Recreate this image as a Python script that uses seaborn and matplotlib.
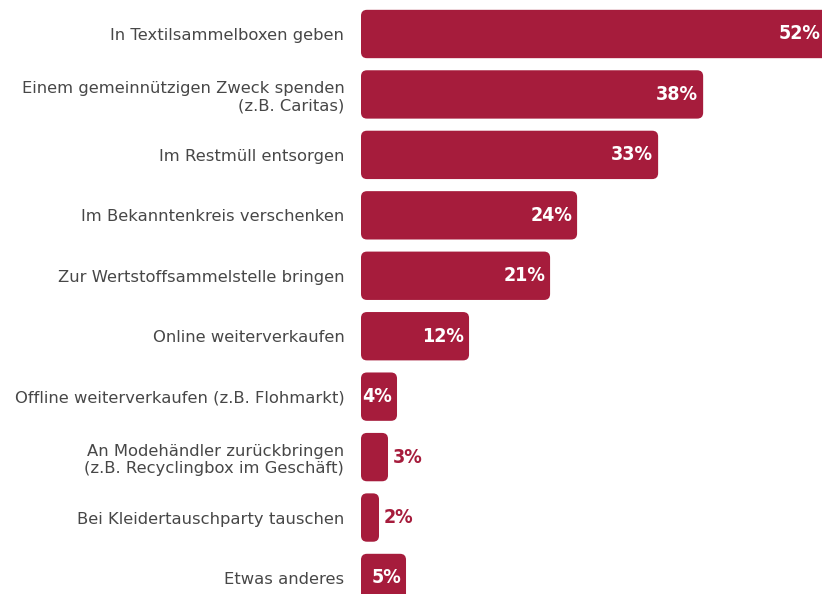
import matplotlib
matplotlib.use("Agg")
import matplotlib.pyplot as plt
import seaborn as sns
import pandas as pd
from matplotlib.patches import FancyBboxPatch

# Data
categories = [
    "In Textilsammelboxen geben",
    "Einem gemeinnützigen Zweck spenden\n(z.B. Caritas)",
    "Im Restmüll entsorgen",
    "Im Bekanntenkreis verschenken",
    "Zur Wertstoffsammelstelle bringen",
    "Online weiterverkaufen",
    "Offline weiterverkaufen (z.B. Flohmarkt)",
    "An Modehändler zurückbringen\n(z.B. Recyclingbox im Geschäft)",
    "Bei Kleidertauschparty tauschen",
    "Etwas anderes",
]
values = [52, 38, 33, 24, 21, 12, 4, 3, 2, 5]

df = pd.DataFrame({"Antwort": categories, "Anteil": values})

bar_color = "#a61c3c"
label_color = "#474747"

sns.set_style("white")
fig = plt.figure(figsize=(8.22, 5.94), dpi=100)
ax = fig.add_axes([361 / 822, 0, 1 - 361 / 822, 1])

sns.barplot(data=df, y="Antwort", x="Anteil", color=bar_color, orient="h",
            width=0.8, saturation=1, ax=ax)

xmax = 51.2
ax.set_xlim(0, xmax)
ax.set_ylim(9.265, -0.5625)

# swap plain bars for rounded ones
px_x = xmax / (822 - 361)
px_y = (9.265 + 0.5625) / 594
for bar in list(ax.patches):
    x, y = bar.get_x(), bar.get_y()
    w, h = bar.get_width(), bar.get_height()
    r = min(6 * px_x, w / 2)
    rounded = FancyBboxPatch((x, y), w, h,
                             boxstyle=f"round,pad=0,rounding_size={r}",
                             mutation_aspect=px_y / px_x,
                             facecolor=bar_color, edgecolor="none")
    bar.remove()
    ax.add_patch(rounded)

# value labels
for i, v in enumerate(values):
    if v >= 4:
        ax.text(min(v - 5 * px_x, xmax - 2 * px_x), i, f"{v}%", ha="right",
                va="center", color="white", fontsize=14, fontweight="bold",
                fontstretch="condensed")
    else:
        ax.text(v + 5 * px_x, i, f"{v}%", ha="left", va="center",
                color=bar_color, fontsize=14, fontweight="bold",
                fontstretch="condensed")

ax.set_xlabel("")
ax.set_ylabel("")
ax.set_xticks([])
ax.tick_params(axis="y", length=0, pad=12, labelsize=11.8, labelcolor=label_color)
for lab in ax.get_yticklabels():
    lab.set_multialignment("right")
sns.despine(ax=ax, left=True, bottom=True)

fig.savefig("out.png", dpi=100)
